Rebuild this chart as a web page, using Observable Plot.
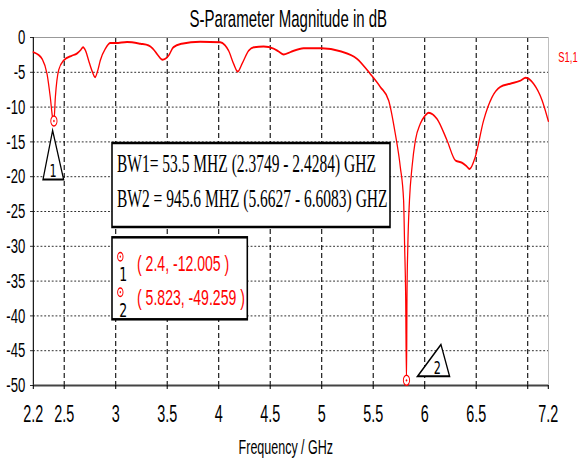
<!DOCTYPE html>
<html><head><meta charset="utf-8">
<script src="https://cdn.jsdelivr.net/npm/d3@7"></script>
<script src="https://cdn.jsdelivr.net/npm/@observablehq/plot@0.6"></script>
<style>html,body{margin:0;padding:0;background:#fff;overflow:hidden}</style>
</head><body><div id="chart"></div>
<script>
// ---- data ----
const freqGHz = [2.20,2.25,2.285,2.333,2.365,2.387,2.40,2.414,2.446,2.494,2.576,2.624,2.66,2.683,2.71,2.737,2.77,2.80,2.83,2.85,2.90,2.948,3.00,3.11,3.24,3.32,3.36,3.40,3.455,3.514,3.56,3.64,3.82,4.015,4.06,4.096,4.145,4.184,4.226,4.29,4.34,4.436,4.533,4.58,4.63,4.695,4.824,5.00,5.18,5.343,5.47,5.569,5.65,5.714,5.763,5.795,5.805,5.815,5.823,5.828,5.836,5.852,5.877,5.909,5.957,6.00,6.038,6.12,6.217,6.30,6.362,6.40,6.436,6.49,6.572,6.653,6.734,6.83,6.93,6.98,7.057,7.14,7.20];
const s11dB = [-2.1,-2.5,-3.06,-5.2,-8.6,-11.5,-12.0,-8.6,-4.7,-3.3,-2.6,-2.3,-1.8,-1.4,-2.0,-3.3,-4.8,-5.7,-4.5,-3.3,-1.6,-0.8,-0.8,-0.65,-0.9,-1.15,-1.6,-2.35,-3.2,-2.6,-1.4,-0.9,-0.6,-0.67,-1.1,-1.9,-3.8,-4.9,-3.8,-1.9,-1.4,-1.3,-1.6,-2.0,-2.45,-2.1,-1.55,-1.55,-1.97,-3.06,-5.2,-7.1,-9.05,-13.8,-18.6,-23.4,-30,-37,-49.259,-37,-30,-23.4,-18.6,-14.8,-12.4,-11.3,-10.8,-11.7,-14.8,-17.7,-18.0,-18.4,-18.9,-17.2,-11.9,-8.6,-7.1,-6.65,-6.2,-5.8,-6.65,-9.05,-12.0];
const markerFreq = [2.4, 5.823];
const markerDB = [-12.005, -49.259];
const bwPrefix = ["BW1= ", "BW2 = "];
const bwMHz = [53.5, 945.6];
const bwLow = [2.3749, 5.6627];
const bwHigh = [2.4284, 6.6083];
const xTicks = [2.2,2.5,3,3.5,4,4.5,5,5.5,6,6.5,7,7.2];
const xTickLabels = ["2.2","2.5","3","3.5","4","4.5","5","5.5","6","6.5","","7.2"];
const yTicks = [0,-5,-10,-15,-20,-25,-30,-35,-40,-45,-50];
const xGrid = [2.5,3,3.5,4,4.5,5,5.5,6,6.5,7];
const yGrid = [-5,-10,-15,-20,-25,-30,-35,-40,-45];
const titleText = "S-Parameter Magnitude in dB";
const xLabelText = "Frequency / GHz";
const seriesName = "S1,1";

// ---- layout ----
const OUT_W = 579, H = 461, W = 926;
const S = OUT_W / W;            // horizontal squeeze of the original picture
const X = px => px / S;         // screen px -> internal px
const fAt = px => 2.2 + (px - 33) / 103;   // screen px -> GHz (annotation placement)
const dbAt = py => -(py - 37) / 6.96;      // screen px -> dB (annotation placement)

const data = freqGHz.map((f, i) => ({f, db: s11dB[i]}));
const markers = markerFreq.map((f, i) => ({f, db: markerDB[i], id: i + 1}));
const bwLines = bwPrefix.map((p, i) => `${p}${bwMHz[i]} MHZ (${bwLow[i].toFixed(4)} - ${bwHigh[i].toFixed(4)}) GHZ`);
const labelMap = new Map(xTicks.map((t, i) => [t, xTickLabels[i]]));

const tri1 = {draw(c) { c.moveTo(X(-1.3), 9.4); c.lineTo(X(-10.9), 58.4); c.lineTo(X(9.7), 58.4); c.closePath(); }};
const tri2 = {draw(c) { c.moveTo(X(34.5), -35.8); c.lineTo(X(11.1), -4.1); c.lineTo(X(43.1), -4.1); c.closePath(); }};

const sans = "'Liberation Sans', Arial, sans-serif";
const serif = "'Liberation Serif', 'Times New Roman', serif";
const dvs = "'DejaVu Sans', sans-serif";
const RED = "#ff0000";

const svg = Plot.plot({
  width: W, height: H,
  marginLeft: X(33), marginRight: X(31), marginTop: 37, marginBottom: 76,
  style: {fontFamily: sans, fontSize: "19px", color: "#000", background: "#fff"},
  x: {domain: [2.2, 7.2]},
  y: {domain: [-50, 0]},
  marks: [
    Plot.gridX(xGrid, {stroke: "#000", strokeOpacity: 1, strokeWidth: 1.7, strokeDasharray: "5,3"}),
    Plot.gridY(yGrid, {stroke: "#000", strokeOpacity: 1, strokeWidth: 1, strokeDasharray: "3,3"}),
    Plot.frame({stroke: "#999"}),
    Plot.ruleX([2.2], {stroke: "#000", strokeWidth: 1.7}),
    Plot.ruleY([-50], {stroke: "#444", strokeWidth: 2}),
    Plot.axisY(yTicks, {label: null, tickSize: X(3), tickPadding: 8, fontSize: 21, tickFormat: d => String(d)}),
    Plot.axisX(xTicks, {label: null, tickSize: 4, tickPadding: 16, strokeWidth: 1.7, fontSize: 23, tickFormat: d => labelMap.get(d)}),
    Plot.text([titleText], {frameAnchor: "top", text: d => d, dx: X(-2.5), dy: -11, lineAnchor: "bottom", fontSize: 24, fill: "#000"}),
    Plot.text([xLabelText], {frameAnchor: "bottom", text: d => d, dx: X(-5), dy: 68, lineAnchor: "bottom", fontSize: 20, fill: "#000"}),
    Plot.text([seriesName], {frameAnchor: "top-right", text: d => d, textAnchor: "start", dx: X(10), dy: 20, lineAnchor: "middle", fontSize: 15, fill: RED}),
    // curve
    Plot.line(data, {x: "f", y: "db", stroke: RED, strokeWidth: 2, curve: "monotone-x"}),
    // markers on curve
    Plot.dot(markers, {x: "f", y: "db", r: 5, stroke: RED, strokeWidth: 1.5, fill: "white"}),
    Plot.dot(markers, {x: "f", y: "db", r: 1.2, fill: RED}),
    // marker flags
    Plot.dot([markers[0]], {x: "f", y: "db", symbol: tri1, fill: "white", stroke: "#000", strokeWidth: 2}),
    Plot.dot([markers[1]], {x: "f", y: "db", symbol: tri2, fill: "white", stroke: "#000", strokeWidth: 2}),
    Plot.text([markers[0]], {x: "f", y: "db", text: d => String(d.id), dx: X(-0.9), dy: 56.4, lineAnchor: "bottom", fontFamily: dvs, fontSize: 18, fill: "#000"}),
    Plot.text([markers[1]], {x: "f", y: "db", text: d => String(d.id), dx: X(30.8), dy: -6.5, lineAnchor: "bottom", fontFamily: dvs, fontSize: 18, fill: "#000"}),
    // bandwidth box
    Plot.rect([0], {x1: () => fAt(112), x2: () => fAt(390), y1: () => dbAt(143), y2: () => dbAt(227), fill: "white", stroke: "#000", strokeWidth: 2.5}),
    Plot.text(bwLines, {x: () => fAt(116.7), y: (d, i) => dbAt(171.7 + i * 35), text: d => d, textAnchor: "start", lineAnchor: "bottom", fontFamily: serif, fontSize: 24.8, fill: "#000"}),
    // marker readout box
    Plot.rect([0], {x1: () => fAt(112), x2: () => fAt(247.3), y1: () => dbAt(237.3), y2: () => dbAt(319.3), fill: "white", stroke: "#000", strokeWidth: 2.5}),
    Plot.dot(markers, {x: () => fAt(120), y: (d, i) => dbAt(256.2 + i * 35.5), r: 4.3, stroke: RED, strokeWidth: 1.5, fill: "white"}),
    Plot.dot(markers, {x: () => fAt(120), y: (d, i) => dbAt(256.2 + i * 35.5), r: 1.1, fill: RED}),
    Plot.text(markers, {x: () => fAt(123), y: (d, i) => dbAt(280 + i * 36.5), text: d => String(d.id), lineAnchor: "bottom", fontFamily: dvs, fontSize: 20, fill: "#000"}),
    Plot.text(markers, {x: () => fAt(136.7), y: (d, i) => dbAt(270 + i * 34.5), text: d => `( ${d.f}, ${d.db.toFixed(3)} )`, textAnchor: "start", lineAnchor: "bottom", fontSize: 22.5, fill: RED})
  ]
});

svg.setAttribute("width", OUT_W);
svg.setAttribute("height", H);
svg.setAttribute("viewBox", `0 0 ${W} ${H}`);
svg.setAttribute("preserveAspectRatio", "none");
svg.style.width = OUT_W + "px";
svg.style.height = H + "px";
svg.style.maxWidth = "none";
document.getElementById("chart").appendChild(svg);
</script>
</body></html>
